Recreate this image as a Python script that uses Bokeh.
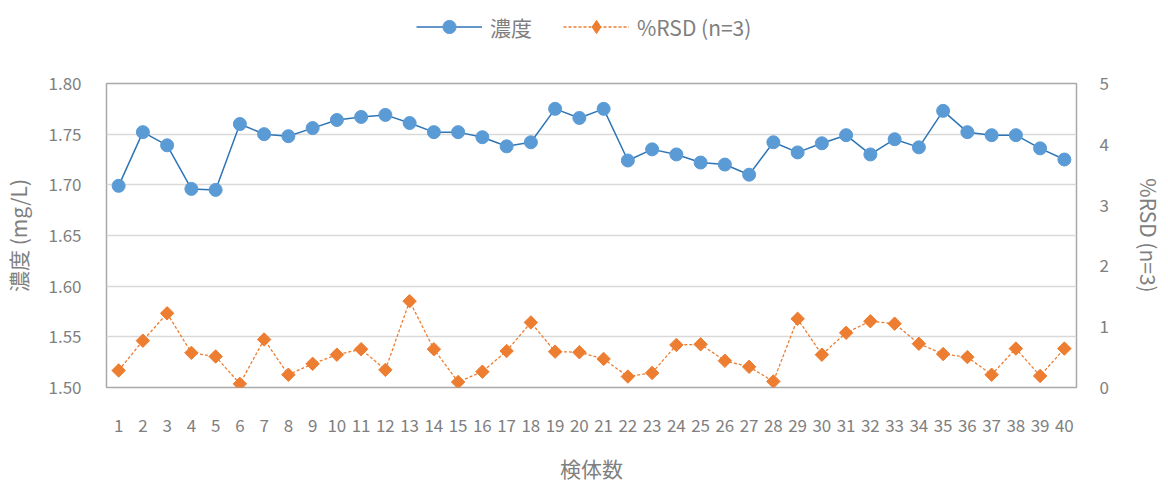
from bokeh.plotting import figure
from bokeh.layouts import column
from bokeh.models import (ColumnDataSource, Range1d, LinearAxis, FixedTicker,
                          Legend, LegendItem, NumeralTickFormatter)
from bokeh.embed import file_html
from bokeh.resources import INLINE

samples = list(range(1, 41))
conc = [1.699, 1.752, 1.739, 1.696, 1.695, 1.760, 1.750, 1.748, 1.756, 1.764,
        1.767, 1.769, 1.761, 1.752, 1.752, 1.747, 1.738, 1.742, 1.775, 1.766,
        1.775, 1.724, 1.735, 1.730, 1.722, 1.720, 1.710, 1.742, 1.732, 1.741,
        1.749, 1.730, 1.745, 1.737, 1.773, 1.752, 1.749, 1.749, 1.736, 1.725]
rsd = [0.28, 0.77, 1.22, 0.57, 0.51, 0.06, 0.79, 0.21, 0.39, 0.54,
       0.63, 0.29, 1.42, 0.63, 0.09, 0.26, 0.60, 1.07, 0.59, 0.58,
       0.47, 0.18, 0.24, 0.70, 0.71, 0.44, 0.34, 0.10, 1.13, 0.54,
       0.90, 1.09, 1.05, 0.72, 0.55, 0.50, 0.21, 0.64, 0.19, 0.64]
left_ticks = [1.50, 1.55, 1.60, 1.65, 1.70, 1.75, 1.80]
right_ticks = [0, 1, 2, 3, 4, 5]

FONT = "Noto Sans CJK JP"
TXT = "#7f7f7f"
BLUE_LINE = "#2e75b6"
BLUE = "#5b9bd5"
ORANGE = "#ed7d31"
W = 1168

src = ColumnDataSource(dict(x=samples, conc=conc, rsd=rsd))

# ---- main chart ----
p = figure(width=W, height=429, output_backend="svg", toolbar_location=None,
           x_range=Range1d(0.5, 40.5), y_range=Range1d(1.50, 1.80),
           min_border_left=103, min_border_right=W - 1076, min_border_bottom=98,
           min_border_top=27)
p.extra_y_ranges = {"rsd": Range1d(0, 5)}

p.outline_line_color = "#a9a9a9"
p.outline_line_width = 1.5
p.xgrid.grid_line_color = None
p.ygrid.grid_line_color = "#d9d9d9"
p.ygrid.grid_line_width = 1.5
p.ygrid.ticker = FixedTicker(ticks=left_ticks)

def style_axis(ax):
    ax.axis_line_color = None
    ax.major_tick_line_color = None
    ax.minor_tick_line_color = None
    ax.major_tick_in = 0
    ax.major_tick_out = 0
    ax.minor_tick_in = 0
    ax.minor_tick_out = 0
    ax.major_label_text_font = FONT
    ax.major_label_text_color = TXT
    ax.major_label_text_font_size = "17px"
    ax.axis_label_text_font = FONT
    ax.axis_label_text_color = TXT
    ax.axis_label_text_font_size = "21px"
    ax.axis_label_text_font_style = "normal"

xa = p.xaxis[0]
xa.ticker = FixedTicker(ticks=samples)
xa.axis_label = "検体数"
style_axis(xa)
xa.major_label_standoff = 31
xa.axis_label_standoff = 18

ya = p.yaxis[0]
ya.ticker = FixedTicker(ticks=left_ticks)
ya.formatter = NumeralTickFormatter(format="0.00")
ya.axis_label = "濃度 (mg/L)"
style_axis(ya)
ya.major_label_standoff = 25
ya.axis_label_standoff = 12

ra = LinearAxis(y_range_name="rsd", ticker=FixedTicker(ticks=right_ticks),
                axis_label="%RSD (n=3)")
style_axis(ra)
ra.major_label_standoff = 23
ra.axis_label_standoff = 22
p.add_layout(ra, "right")

p.line("x", "conc", source=src, line_color=BLUE_LINE, line_width=1.5)
p.scatter("x", "conc", source=src, marker="circle", size=13,
          fill_color=BLUE, line_color=BLUE)
p.line("x", "rsd", source=src, y_range_name="rsd", line_color=ORANGE,
       line_width=1.3, line_dash="3 2")
p.scatter("x", "rsd", source=src, y_range_name="rsd", marker="square",
          size=9.5, angle=45, angle_units="deg",
          fill_color=ORANGE, line_color=ORANGE)

# ---- legend strip ----
lg = figure(width=W, height=56, output_backend="svg", toolbar_location=None,
            x_axis_type=None, y_axis_type=None, min_border=0,
            x_range=Range1d(0, 1), y_range=Range1d(0, 1))
lg.outline_line_color = None
lg.xgrid.grid_line_color = None
lg.ygrid.grid_line_color = None
dx, dy = [-5, -6], [-5, -6]
d1 = lg.line(x=dx, y=dy, line_color=BLUE_LINE, line_width=1.5)
d2 = lg.scatter(x=dx, y=dy, marker="circle", size=13, fill_color=BLUE,
                line_color=BLUE)
d3 = lg.line(x=dx, y=dy, line_color=ORANGE, line_width=1.3, line_dash="3 2")
d4 = lg.scatter(x=dx, y=dy, marker="diamond", size=13,
                fill_color=ORANGE, line_color=ORANGE)
legend = Legend(items=[LegendItem(label="濃度", renderers=[d1, d2]),
                       LegendItem(label="%RSD (n=3)", renderers=[d3, d4])],
                orientation="horizontal", location=(310, 13),
                border_line_color=None, background_fill_alpha=0,
                label_text_font=FONT, label_text_color=TXT,
                label_text_font_size="21px", glyph_width=66, glyph_height=33,
                spacing=31, label_standoff=8, padding=4, margin=0)
lg.add_layout(legend, "center")

open("out.html", "w").write(file_html(column(lg, p), INLINE))
